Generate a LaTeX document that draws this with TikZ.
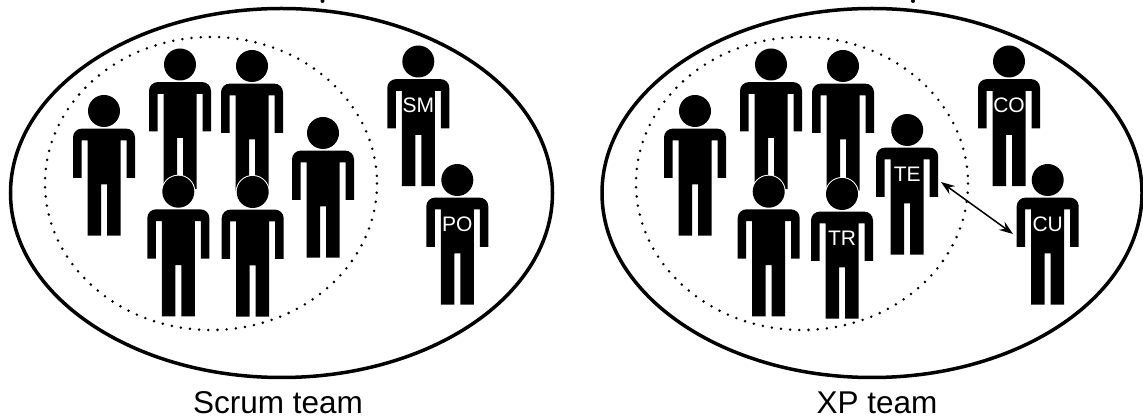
\documentclass[tikz,border=0pt]{standalone}
\usepackage{fontspec}
\setmainfont{Liberation Sans}
\usetikzlibrary{arrows.meta}
\tikzset{
  px/.style={x=1pt,y=-1pt},
  teamring/.style={draw=black,line width=3.5pt},
  corering/.style={draw=black,line width=2.8pt,dash pattern=on 0pt off 9.2pt,line cap=round},
  badge/.style={text=white,font=\fontsize{21}{21}\selectfont,inner sep=0pt},
  caption/.style={text=black,font=\fontsize{31.5}{31.5}\selectfont,inner sep=0pt,anchor=base},
  link/.style={draw=black,line width=1.5pt,{Stealth[length=14pt,width=10pt,inset=5pt]}-{Stealth[length=14pt,width=10pt,inset=5pt]}}
}
% #1 = x, #2 = y of head centre, #3 = label, #4 = node name
\newcommand{\person}[4]{%
  \begin{scope}[shift={(#1,#2)}]
    \fill[black] (-31,67) -- (-31,26.3) .. controls (-31,21.3) and (-27,17.6) .. (-22,17.6) -- (22,17.6) .. controls (27,17.6) and (31,21.3) .. (31,26.3) -- (31,67) -- (22.5,67) -- (22.5,29.5) -- (16.5,29.5) -- (16.5,124.6) -- (3,124.6) -- (3,73.5) -- (-3,73.5) -- (-3,124.6) -- (-16.5,124.6) -- (-16.5,29.5) -- (-22.5,29.5) -- (-22.5,67) -- (-31,67) -- cycle;
    \fill[black] (0,0) circle[radius=16];
    \node[badge] (#4) at (0,44) {#3};
  \end{scope}}
% head with thin white halo, for people standing in front
\newcommand{\frontperson}[4]{%
  \fill[white] (#1,#2) circle[radius=17];
  \person{#1}{#2}{#3}{#4}}
\begin{document}
\begin{tikzpicture}[px]
\useasboundingbox (0,0) rectangle (1143,419);
\begin{scope}
\clip (0,0) rectangle (1143,419);
\fill[black] (322.5,1) circle[radius=2];
\fill[black] (913,1) circle[radius=2];
\end{scope}
% left
\draw[teamring] (281.5,193) ellipse[x radius=271,y radius=184.5];
\draw[corering] (211,183.5) ellipse[x radius=166,y radius=146.5];
\person{104}{111}{}{a1}
\person{180}{64.5}{}{a2}
\person{252}{66}{}{a3}
\person{323}{133}{}{a4}
\frontperson{178.3}{191.7}{}{a5}
\frontperson{252.7}{192}{}{a6}
\person{418.3}{61.5}{SM}{sm}
\person{457.3}{180}{PO}{po}
\node[caption] (capL) at (278,413.5) {Scrum team};
% right
\draw[teamring] (872,193) ellipse[x radius=270,y radius=184.5];
\draw[corering] (802,183.5) ellipse[x radius=166,y radius=146.5];
\person{695}{111}{}{b1}
\person{771}{64.5}{}{b2}
\person{843}{66}{}{b3}
\person{907.2}{130}{TE}{te}
\frontperson{768.7}{191.7}{}{b5}
\frontperson{842}{194}{TR}{tr}
\person{1009}{61.5}{CO}{co}
\person{1047.7}{180}{CU}{cu}
\node[caption] (capR) at (877,413.5) {XP team};
\coordinate (teArm) at (941,182);
\coordinate (cuArm) at (1013,234);
\draw[link] (teArm) -- (cuArm);
\end{tikzpicture}
\end{document}
